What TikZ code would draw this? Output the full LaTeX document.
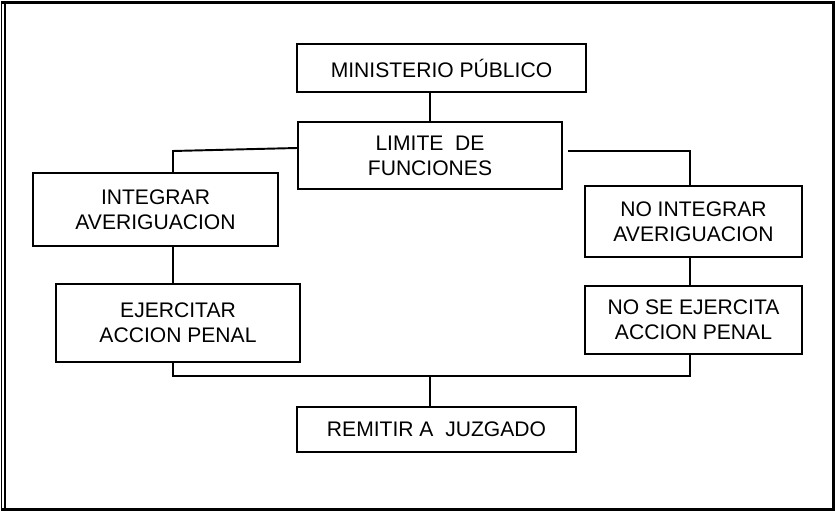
\documentclass[tikz,border=0pt]{standalone}
\usepackage{fontspec}
\setmainfont{Liberation Sans}
\usepackage{tikz}
\usetikzlibrary{positioning,calc}

\begin{document}
\begin{tikzpicture}[x=1cm,y=1cm,font=\fontsize{12}{14.2}\selectfont]
  \tikzset{paso/.style={draw=black,line width=1.1pt,fill=white,align=center,inner sep=2pt},
           enlace/.style={draw=black,line width=1.1pt}}
  \useasboundingbox (0,0) rectangle (16.7,10.24);
  % marco
  \draw[line width=0.06cm] (0.02,10.19) -- (16.67,10.19) -- (16.67,0.05) -- (0.02,0.05);
  \draw[line width=0.03cm] (0.03,10.22) -- (0.03,0.02);
  \draw[line width=0.03cm] (0.10,10.16) -- (0.10,0.08);
  % cajas
  \node[paso,minimum width=5.78cm,minimum height=0.96cm] (mp) at (8.83,8.88) {MINISTERIO PÚBLICO};
  \node[paso,minimum width=5.28cm,minimum height=1.34cm] (lf) at (8.6,7.13) {LIMITE\ \ DE\\FUNCIONES};
  \node[paso,minimum width=4.9cm,minimum height=1.46cm] (ia) at (3.11,6.05) {INTEGRAR\\AVERIGUACION};
  \node[paso,minimum width=4.34cm,minimum height=1.42cm] (ni) at (13.87,5.81) {NO INTEGRAR\\AVERIGUACION};
  \node[paso,minimum width=4.88cm,minimum height=1.56cm] (ea) at (3.56,3.78) {EJERCITAR\\ACCION PENAL};
  \node[paso,minimum width=4.34cm,minimum height=1.36cm] (ns) at (13.87,3.84) {NO SE EJERCITA\\ACCION PENAL};
  \node[paso,minimum width=5.58cm,minimum height=0.9cm] (rj) at (8.73,1.65) {REMITIR A\ \ JUZGADO};
  % lineas
  \coordinate (kl) at (3.46,7.22);
  \coordinate (kr) at (13.8,7.22);
  \coordinate (bus) at (8.6,2.72);
  \draw[enlace] (lf.north) -- (lf.north |- mp.south);
  \draw[enlace] ([yshift=0.15cm]lf.west) -- (kl) -- (kl |- ia.north);
  \draw[enlace] ([xshift=0.1cm,yshift=0.09cm]lf.east) -- (kr) -- (kr |- ni.north);
  \draw[enlace] (kl |- ia.south) -- (kl |- ea.north);
  \draw[enlace] (kr |- ni.south) -- (kr |- ns.north);
  \draw[enlace] (kl |- ea.south) -- (kl |- bus) -- (kr |- bus) -- (kr |- ns.south);
  \draw[enlace] (bus) -- (bus |- rj.north);
\end{tikzpicture}
\end{document}
